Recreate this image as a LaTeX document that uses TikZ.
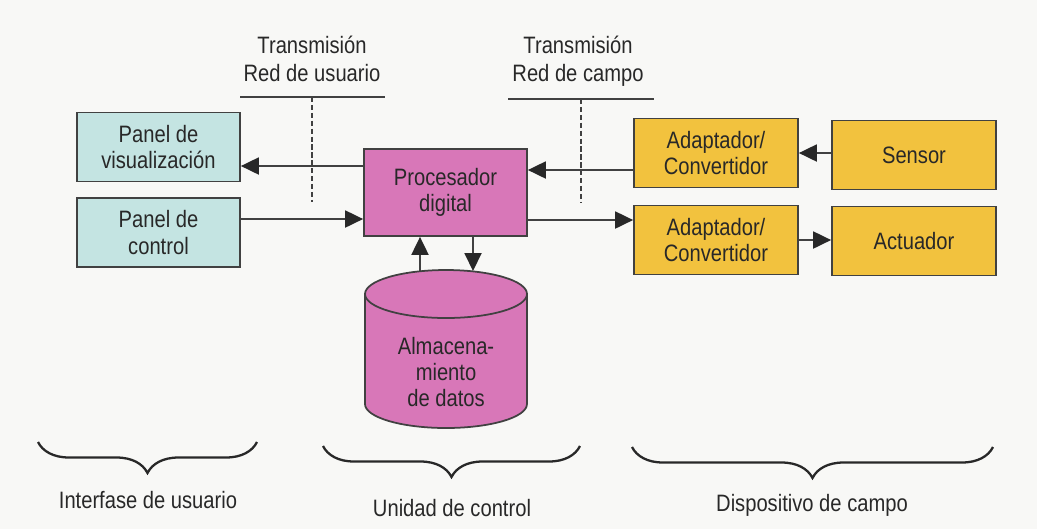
\documentclass[tikz,border=0pt]{standalone}
\usepackage{fontspec}
\setmainfont{Liberation Sans}[FakeStretch=0.85]
\usetikzlibrary{arrows.meta,decorations.pathreplacing}

\definecolor{paper}{RGB}{248,248,246}
\definecolor{ink}{RGB}{40,40,40}
\definecolor{edge}{RGB}{65,65,65}
\definecolor{panelc}{RGB}{196,228,226}
\definecolor{procc}{RGB}{216,119,184}
\definecolor{fieldc}{RGB}{242,194,62}

\begin{document}
\begin{tikzpicture}[x=0.02cm,y=-0.02cm,
    font=\fontsize{13.5}{15}\selectfont, text=ink,
    blk/.style={draw=edge, line width=1pt, align=center, minimum width=3.26cm, minimum height=1.38cm},
    arr/.style={draw=edge, line width=1.1pt, -{Triangle[length=3.6mm,width=3.4mm,color=ink]}},
    net/.style={draw=edge, line width=1.1pt},
    brc/.style={draw=ink, line width=1.3pt, decorate, decoration={brace, amplitude=0.62cm}}]
  \fill[paper] (0,0) rectangle (1037,529);
  \useasboundingbox (0,0) rectangle (1037,529);

  % user side
  \node[blk, fill=panelc] (vis) at (158.5,147) {Panel de\\visualización};
  \node[blk, fill=panelc] (ctl) at (158.5,232.5) {Panel de\\control};
  \node[blk, fill=procc, minimum height=1.74cm] (proc) at (445.5,192.5) {Procesador\\digital};
  \draw[arr] (proc.west |- 0,166) -- (vis.east |- 0,166);
  \draw[arr] (ctl.east |- 0,219) -- (proc.west |- 0,219);

  % field side
  \node[blk, fill=fieldc, minimum width=3.28cm] (ad1) at (716,153) {Adaptador/\\Convertidor};
  \node[blk, fill=fieldc, minimum width=3.28cm] (sen) at (914,155) {Sensor};
  \node[blk, fill=fieldc, minimum width=3.28cm] (ad2) at (716,240) {Adaptador/\\Convertidor};
  \node[blk, fill=fieldc, minimum width=3.28cm] (act) at (914,241) {Actuador};
  \draw[arr] (sen.west |- 0,153) -- (ad1.east |- 0,153);
  \draw[arr] (ad1.west |- 0,170) -- (proc.east |- 0,170);
  \draw[arr] (proc.east |- 0,220) -- (ad2.west |- 0,220);
  \draw[arr] (ad2.east |- 0,240) -- (act.west |- 0,240);

  % storage
  \filldraw[fill=procc, draw=edge, line width=1pt] (365,294) -- (365,404)
    arc[start angle=180, end angle=360, x radius=1.62cm, y radius=0.48cm] -- (527,294) -- cycle;
  \filldraw[fill=procc, draw=edge, line width=1pt] (446,294) ellipse [x radius=1.62cm, y radius=0.48cm];
  \coordinate (alm) at (446,271);
  \node[align=center] (almtxt) at (446,372) {Almacena-\\miento\\de datos};
  \draw[arr] (alm -| 420,0) -- (proc.south -| 420,0);
  \draw[arr] (proc.south -| 473,0) -- (alm -| 473,0);

  % transmission lines
  \node[align=center, font=\fontsize{13.5}{16}\selectfont] (tru) at (312,59) {Transmisión\\Red de usuario};
  \coordinate (tru-l) at (240,97);
  \coordinate (tru-r) at (385,97);
  \coordinate (tru-b) at (312,202);
  \draw[net] (tru-l) -- (tru-r);
  \draw[net, line width=1.3pt, dash pattern=on 3pt off 1.5pt] (tru-l -| tru-b) -- (tru-b);
  \node[align=center, font=\fontsize{13.5}{16}\selectfont] (trc) at (578,61) {Transmisión\\Red de campo};
  \coordinate (trc-l) at (508,99);
  \coordinate (trc-r) at (654,99);
  \coordinate (trc-b) at (581,202);
  \draw[net] (trc-l) -- (trc-r);
  \draw[net, line width=1.3pt, dash pattern=on 3pt off 1.5pt] (trc-l -| trc-b) -- (trc-b);

  % groups
  \draw[brc] (257,442) -- (38,442);
  \node (gusr) at (148,500) {Interfase de usuario};
  \draw[brc] (580,446) -- (323,446);
  \node (gctl) at (452,508) {Unidad de control};
  \draw[brc] (993,447) -- (632,447);
  \node (gfld) at (812,505) {Dispositivo de campo};
\end{tikzpicture}
\end{document}
